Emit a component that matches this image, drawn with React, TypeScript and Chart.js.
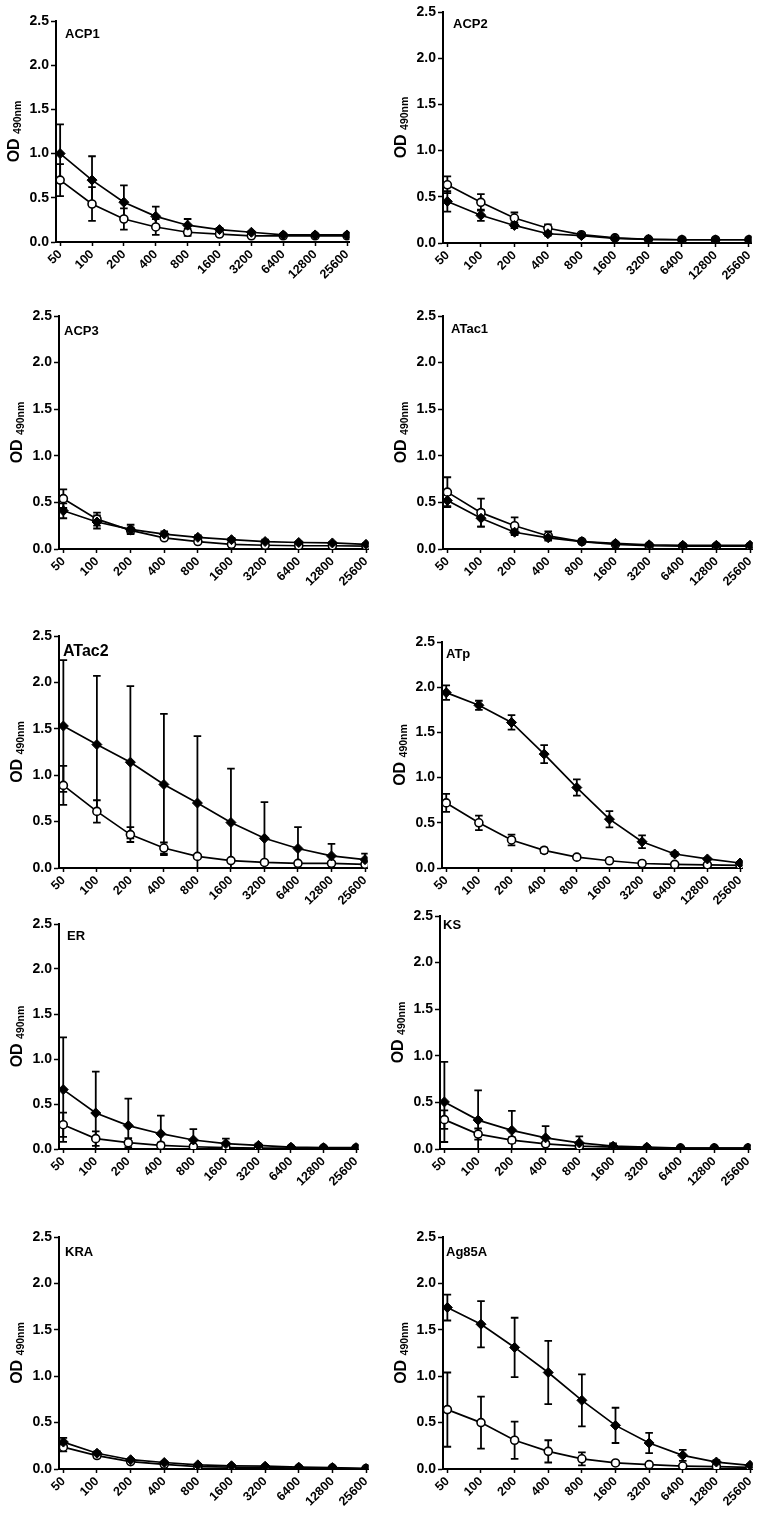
import React, { useEffect, useRef } from 'react';
import { Chart, registerables } from 'chart.js';

Chart.register(...registerables);

// ---------- data ----------
const dilutions = ['50', '100', '200', '400', '800', '1600', '3200', '6400', '12800', '25600'];
const yTickValues = [0, 0.5, 1.0, 1.5, 2.0, 2.5];
const yAxisTitle = 'OD';
const yAxisSub = '490nm';

const acp1Filled = [1.00, 0.70, 0.45, 0.29, 0.19, 0.14, 0.11, 0.08, 0.08, 0.08];
const acp1FilledSd = [0.33, 0.27, 0.19, 0.11, 0.07, 0.02, 0.01, 0.01, 0.01, 0.01];
const acp1Open = [0.70, 0.43, 0.26, 0.17, 0.11, 0.09, 0.07, 0.07, 0.07, 0.07];
const acp1OpenSd = [0.18, 0.19, 0.12, 0.09, 0.04, 0.02, 0.01, 0.01, 0.01, 0.01];

const acp2Filled = [0.45, 0.30, 0.19, 0.10, 0.08, 0.05, 0.04, 0.035, 0.035, 0.035];
const acp2FilledSd = [0.11, 0.06, 0.03, 0.02, 0.01, 0.01, 0.01, 0.01, 0.01, 0.01];
const acp2Open = [0.63, 0.44, 0.27, 0.16, 0.09, 0.055, 0.04, 0.035, 0.035, 0.035];
const acp2OpenSd = [0.09, 0.09, 0.06, 0.04, 0.02, 0.01, 0.01, 0.01, 0.01, 0.01];

const acp3Filled = [0.41, 0.29, 0.21, 0.16, 0.125, 0.10, 0.08, 0.07, 0.065, 0.05];
const acp3FilledSd = [0.08, 0.07, 0.05, 0.03, 0.02, 0.02, 0.02, 0.01, 0.01, 0.01];
const acp3Open = [0.54, 0.32, 0.20, 0.12, 0.08, 0.05, 0.04, 0.035, 0.035, 0.03];
const acp3OpenSd = [0.10, 0.07, 0.03, 0.02, 0.01, 0.01, 0.01, 0.01, 0.01, 0.01];

const atac1Filled = [0.52, 0.33, 0.18, 0.12, 0.08, 0.06, 0.045, 0.04, 0.04, 0.04];
const atac1FilledSd = [0.06, 0.09, 0.03, 0.02, 0.01, 0.01, 0.01, 0.01, 0.01, 0.01];
const atac1Open = [0.61, 0.39, 0.25, 0.14, 0.08, 0.05, 0.035, 0.03, 0.03, 0.03];
const atac1OpenSd = [0.16, 0.15, 0.09, 0.05, 0.02, 0.01, 0.01, 0.01, 0.01, 0.01];

const atac2Filled = [1.53, 1.33, 1.14, 0.90, 0.70, 0.49, 0.32, 0.21, 0.13, 0.09];
const atac2FilledSd = [0.71, 0.74, 0.82, 0.76, 0.72, 0.58, 0.39, 0.23, 0.13, 0.065];
const atac2Open = [0.89, 0.61, 0.36, 0.215, 0.125, 0.08, 0.06, 0.05, 0.05, 0.04];
const atac2OpenSd = [0.21, 0.12, 0.08, 0.06, 0.02, 0.01, 0.01, 0.01, 0.01, 0.01];

const atpFilled = [1.94, 1.80, 1.61, 1.26, 0.89, 0.54, 0.29, 0.155, 0.10, 0.055];
const atpFilledSd = [0.08, 0.05, 0.08, 0.10, 0.09, 0.09, 0.07, 0.02, 0.01, 0.01];
const atpOpen = [0.72, 0.50, 0.31, 0.195, 0.12, 0.08, 0.05, 0.04, 0.035, 0.03];
const atpOpenSd = [0.10, 0.08, 0.06, 0.03, 0.015, 0.01, 0.01, 0.01, 0.01, 0.01];

const erFilled = [0.66, 0.40, 0.26, 0.17, 0.10, 0.06, 0.04, 0.02, 0.015, 0.015];
const erFilledSd = [0.58, 0.46, 0.30, 0.20, 0.12, 0.055, 0.02, 0.01, 0.01, 0.01];
const erOpen = [0.27, 0.115, 0.07, 0.04, 0.025, 0.015, 0.01, 0.01, 0.01, 0.01];
const erOpenSd = [0.135, 0.08, 0.05, 0.03, 0.02, 0.01, 0.01, 0.01, 0.01, 0.01];

const ksFilled = [0.505, 0.31, 0.20, 0.12, 0.065, 0.03, 0.02, 0.01, 0.01, 0.01];
const ksFilledSd = [0.43, 0.32, 0.21, 0.125, 0.07, 0.03, 0.01, 0.01, 0.01, 0.01];
const ksOpen = [0.315, 0.16, 0.095, 0.055, 0.03, 0.02, 0.01, 0.01, 0.01, 0.01];
const ksOpenSd = [0.10, 0.06, 0.03, 0.02, 0.01, 0.01, 0.01, 0.01, 0.01, 0.01];

const kraFilled = [0.29, 0.17, 0.10, 0.07, 0.045, 0.035, 0.03, 0.02, 0.015, 0.005];
const kraFilledSd = [0.045, 0.02, 0.01, 0.01, 0.01, 0.01, 0.005, 0.005, 0.005, 0.005];
const kraOpen = [0.235, 0.145, 0.08, 0.05, 0.025, 0.02, 0.015, 0.01, 0.01, 0.005];
const kraOpenSd = [0.045, 0.02, 0.01, 0.01, 0.005, 0.005, 0.005, 0.005, 0.005, 0.005];

const ag85aFilled = [1.74, 1.56, 1.31, 1.04, 0.74, 0.47, 0.28, 0.147, 0.075, 0.04];
const ag85aFilledSd = [0.14, 0.25, 0.32, 0.34, 0.28, 0.19, 0.11, 0.06, 0.02, 0.01];
const ag85aOpen = [0.64, 0.50, 0.31, 0.19, 0.11, 0.065, 0.047, 0.032, 0.025, 0.018];
const ag85aOpenSd = [0.40, 0.28, 0.20, 0.12, 0.07, 0.02, 0.01, 0.01, 0.01, 0.01];

const panelNames = ['ACP1', 'ACP2', 'ACP3', 'ATac1', 'ATac2', 'ATp', 'ER', 'KS', 'KRA', 'Ag85A'];
const panelFilled = [acp1Filled, acp2Filled, acp3Filled, atac1Filled, atac2Filled, atpFilled, erFilled, ksFilled, kraFilled, ag85aFilled];
const panelFilledSd = [acp1FilledSd, acp2FilledSd, acp3FilledSd, atac1FilledSd, atac2FilledSd, atpFilledSd, erFilledSd, ksFilledSd, kraFilledSd, ag85aFilledSd];
const panelOpen = [acp1Open, acp2Open, acp3Open, atac1Open, atac2Open, atpOpen, erOpen, ksOpen, kraOpen, ag85aOpen];
const panelOpenSd = [acp1OpenSd, acp2OpenSd, acp3OpenSd, atac1OpenSd, atac2OpenSd, atpOpenSd, erOpenSd, ksOpenSd, kraOpenSd, ag85aOpenSd];

// ---------- layout (page pixels): y-axis x, last category x, top (2.5) y, bottom (0) y ----------
const panelLayout = [
  { axisX: 56, lastX: 347, top: 21, bottom: 242, titleDx: 9, titleDy: 7, titleSize: 13 },
  { axisX: 443, lastX: 749, top: 12, bottom: 243, titleDx: 10, titleDy: 6, titleSize: 13 },
  { axisX: 59, lastX: 366, top: 316, bottom: 549, titleDx: 5, titleDy: 9, titleSize: 13 },
  { axisX: 443, lastX: 750, top: 316, bottom: 549, titleDx: 8, titleDy: 7, titleSize: 13 },
  { axisX: 59, lastX: 365, top: 636, bottom: 868, titleDx: 4, titleDy: 8, titleSize: 16 },
  { axisX: 442, lastX: 740, top: 642, bottom: 868, titleDx: 4, titleDy: 6, titleSize: 13 },
  { axisX: 59, lastX: 356, top: 924, bottom: 1149, titleDx: 8, titleDy: 6, titleSize: 13 },
  { axisX: 440, lastX: 748, top: 916, bottom: 1149, titleDx: 3, titleDy: 3, titleSize: 13 },
  { axisX: 59, lastX: 366, top: 1237, bottom: 1469, titleDx: 6, titleDy: 9, titleSize: 13 },
  { axisX: 443, lastX: 750, top: 1237, bottom: 1469, titleDx: 3, titleDy: 9, titleSize: 13 },
];

const X_MIN = -0.13;
const X_MAX = 9.08;
const Y_AXIS_W = 56;
const X_AXIS_H = 60;
const PAD_TOP = 14;
const PAD_RIGHT = 16;
const FONT = "'Liberation Sans', Arial, Helvetica, sans-serif";

type PanelProps = {
  name: string;
  filled: number[];
  filledSd: number[];
  open: number[];
  openSd: number[];
  layout: (typeof panelLayout)[number];
};

function Panel({ name, filled, filledSd, open, openSd, layout }: PanelProps) {
  const ref = useRef<HTMLCanvasElement | null>(null);

  const plotLeft = layout.axisX;
  const plotRight = layout.axisX + ((layout.lastX - layout.axisX) * (X_MAX - X_MIN)) / (9 - X_MIN);
  const canvasLeft = plotLeft - Y_AXIS_W;
  const canvasTop = layout.top - PAD_TOP;
  const width = Math.round(plotRight + PAD_RIGHT - canvasLeft);
  const height = Math.round(layout.bottom + X_AXIS_H - canvasTop);
  const padRight = width - (plotRight - canvasLeft);

  useEffect(() => {
    const canvas = ref.current;
    if (!canvas) return;

    const errorBars = {
      id: 'errorBars',
      beforeDatasetsDraw(chart: any) {
        const { ctx, chartArea } = chart;
        const xs = chart.scales.x;
        const ys = chart.scales.y;
        ctx.save();
        ctx.beginPath();
        ctx.rect(chartArea.left, chartArea.top - 2, chartArea.right - chartArea.left, chartArea.bottom - chartArea.top + 2);
        ctx.clip();
        ctx.strokeStyle = '#000';
        ctx.lineWidth = 1.8;
        const series = [
          { vals: open, sds: openSd },
          { vals: filled, sds: filledSd },
        ];
        series.forEach(({ vals, sds }) => {
          vals.forEach((v, i) => {
            const sd = sds[i];
            const px = xs.getPixelForValue(i);
            const yTop = ys.getPixelForValue(v + sd);
            const yBot = ys.getPixelForValue(v - sd);
            const cap = 3.8;
            ctx.beginPath();
            ctx.moveTo(px, yTop);
            ctx.lineTo(px, yBot);
            ctx.moveTo(px - cap, yTop);
            ctx.lineTo(px + cap, yTop);
            ctx.moveTo(px - cap, yBot);
            ctx.lineTo(px + cap, yBot);
            ctx.stroke();
          });
        });
        ctx.restore();
      },
    };

    const decor = {
      id: 'decor',
      afterDraw(chart: any) {
        const { ctx, chartArea } = chart;
        ctx.save();
        ctx.fillStyle = '#000';
        // panel title
        ctx.font = `bold ${layout.titleSize}px ${FONT}`;
        ctx.textAlign = 'left';
        ctx.textBaseline = 'top';
        ctx.fillText(name, chartArea.left + layout.titleDx, chartArea.top + layout.titleDy);
        // y-axis title with subscript
        const cx = chartArea.left - 43;
        const cy = (chartArea.top + chartArea.bottom) / 2;
        ctx.translate(cx, cy);
        ctx.rotate(-Math.PI / 2);
        const mainFont = `bold 16px ${FONT}`;
        const subFont = `bold 10.5px ${FONT}`;
        ctx.font = mainFont;
        const wMain = ctx.measureText(yAxisTitle + ' ').width;
        ctx.font = subFont;
        const wSub = ctx.measureText(yAxisSub).width;
        const start = -(wMain + wSub) / 2;
        ctx.textBaseline = 'alphabetic';
        ctx.font = mainFont;
        ctx.fillText(yAxisTitle + ' ', start, 6);
        ctx.font = subFont;
        ctx.fillText(yAxisSub, start + wMain, 8);
        ctx.restore();
      },
    };

    const chart = new Chart(canvas, {
      type: 'line',
      data: {
        datasets: [
          {
            data: filled.map((y, i) => ({ x: i, y })),
            borderColor: '#000',
            borderWidth: 1.7,
            pointStyle: 'rectRot',
            pointRadius: 5,
            pointBackgroundColor: '#000',
            pointBorderColor: '#000',
            pointBorderWidth: 1,
            tension: 0,
            fill: false,
          },
          {
            data: open.map((y, i) => ({ x: i, y })),
            borderColor: '#000',
            borderWidth: 1.7,
            pointStyle: 'circle',
            pointRadius: 4,
            pointBackgroundColor: '#fff',
            pointBorderColor: '#000',
            pointBorderWidth: 1.6,
            tension: 0,
            fill: false,
          },
        ],
      },
      options: {
        responsive: false,
        animation: false,
        devicePixelRatio: 1,
        events: [],
        layout: { padding: { top: PAD_TOP, right: padRight, left: 0, bottom: 0 } },
        plugins: { legend: { display: false }, tooltip: { enabled: false }, title: { display: false } },
        scales: {
          x: {
            type: 'linear',
            min: X_MIN,
            max: X_MAX,
            afterBuildTicks: (scale: any) => {
              scale.ticks = dilutions.map((_, i) => ({ value: i }));
            },
            afterFit: (scale: any) => {
              scale.height = X_AXIS_H;
            },
            ticks: {
              autoSkip: false,
              maxRotation: 45,
              minRotation: 45,
              padding: 1,
              color: '#000',
              font: { family: FONT, size: 12.5, weight: 'bold' },
              callback: (v: any) => dilutions[v] ?? '',
            },
            grid: {
              display: true,
              drawOnChartArea: false,
              drawTicks: true,
              tickLength: 4,
              tickColor: '#000',
              tickWidth: 1.5,
            },
            border: { display: true, color: '#000', width: 2 },
          },
          y: {
            type: 'linear',
            min: 0,
            max: 2.5,
            afterBuildTicks: (scale: any) => {
              scale.ticks = yTickValues.map((v) => ({ value: v }));
            },
            afterFit: (scale: any) => {
              scale.width = Y_AXIS_W;
            },
            ticks: {
              padding: 2,
              color: '#000',
              font: { family: FONT, size: 14, weight: 'bold' },
              callback: (v: any) => Number(v).toFixed(1),
            },
            grid: {
              display: true,
              drawOnChartArea: false,
              drawTicks: true,
              tickLength: 5,
              tickColor: '#000',
              tickWidth: 1.5,
            },
            border: { display: true, color: '#000', width: 2 },
          },
        },
      },
      plugins: [errorBars, decor],
    } as any);

    return () => chart.destroy();
  }, [name, filled, filledSd, open, openSd, layout, padRight]);

  return (
    <canvas
      ref={ref}
      width={width}
      height={height}
      style={{ position: 'absolute', left: canvasLeft, top: canvasTop, width, height }}
    />
  );
}

export default function App() {
  return (
    <div style={{ position: 'absolute', left: 0, top: 0, width: 762, height: 1522, background: '#fff', overflow: 'hidden' }}>
      {panelNames.map((name, i) => (
        <Panel
          key={name}
          name={name}
          filled={panelFilled[i]}
          filledSd={panelFilledSd[i]}
          open={panelOpen[i]}
          openSd={panelOpenSd[i]}
          layout={panelLayout[i]}
        />
      ))}
    </div>
  );
}
